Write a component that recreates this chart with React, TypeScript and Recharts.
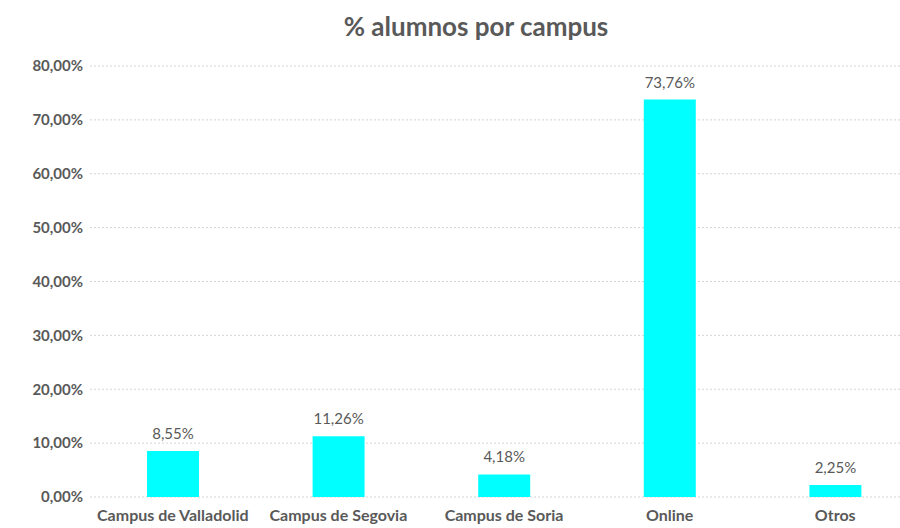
import { BarChart, Bar, XAxis, YAxis, CartesianGrid, LabelList } from 'recharts';

const campuses = ['Campus de Valladolid', 'Campus de Segovia', 'Campus de Soria', 'Online', 'Otros'];
const percentages = [8.55, 11.26, 4.18, 73.76, 2.25];
const yTicks = [0, 10, 20, 30, 40, 50, 60, 70, 80];

const data = campuses.map((name, i) => ({ name, value: percentages[i] }));

const fmt = (v: number, digits: number) => v.toFixed(digits).replace('.', ',') + '%';

const textColor = '#595959';
const font = 'Lato, "Open Sans", sans-serif';

export default function App() {
  return (
    <div
      style={{
        position: 'absolute',
        left: 0,
        top: 0,
        width: 900,
        height: 528,
        overflow: 'hidden',
        background: '#fff',
        fontFamily: font,
      }}
    >
      <div
        style={{
          position: 'absolute',
          left: 0,
          width: 952,
          top: 10,
          textAlign: 'center',
          fontSize: 26,
          fontWeight: 700,
          color: textColor,
        }}
      >
        % alumnos por campus
      </div>
      <BarChart
        width={930}
        height={528}
        data={data}
        margin={{ top: 66, right: 12, bottom: 0, left: 0 }}
      >
        <CartesianGrid vertical={false} stroke="#d4d4d4" strokeDasharray="2 2" />
        <XAxis
          dataKey="name"
          axisLine={false}
          tickLine={false}
          tickSize={0}
          tickMargin={13}
          height={31}
          interval={0}
          tick={{ fill: textColor, fontSize: 16, fontWeight: 700, fontFamily: font }}
        />
        <YAxis
          domain={[0, 80]}
          ticks={yTicks}
          axisLine={false}
          tickLine={false}
          tickSize={0}
          tickMargin={7}
          width={90}
          tickFormatter={(v: number) => fmt(v, 2)}
          tick={{ fill: textColor, fontSize: 15, fontWeight: 700, fontFamily: font }}
        />
        <Bar dataKey="value" fill="#00ffff" barSize={52} isAnimationActive={false}>
          <LabelList
            dataKey="value"
            position="top"
            offset={12}
            formatter={(v: number) => fmt(v, 2)}
            style={{ fill: textColor, fontSize: 15, fontFamily: font }}
          />
        </Bar>
      </BarChart>
    </div>
  );
}
